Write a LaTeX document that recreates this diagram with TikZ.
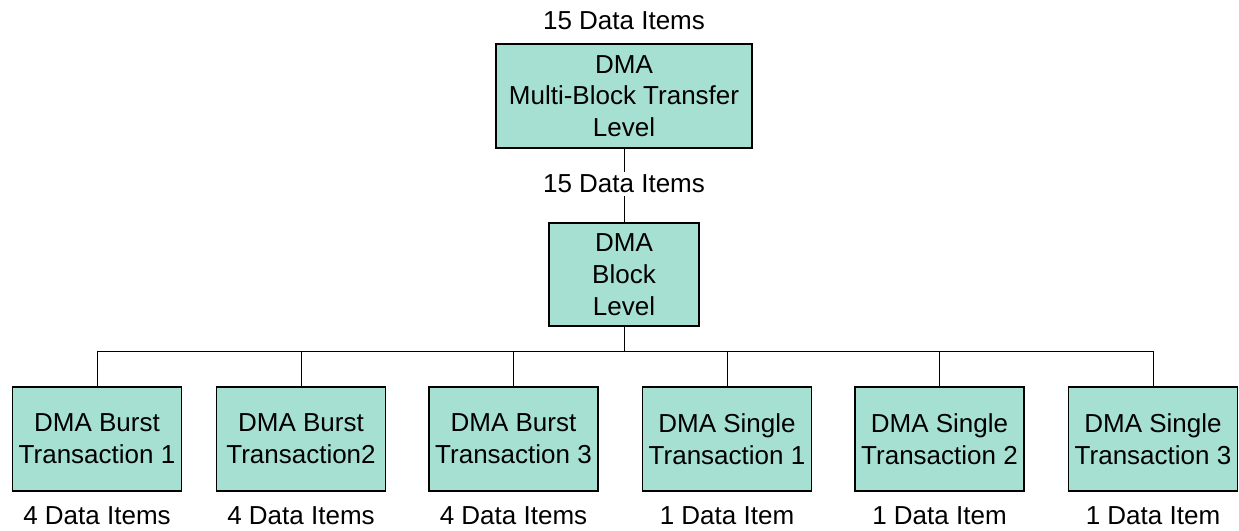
\documentclass[tikz,border=0pt]{standalone}
\usepackage{fontspec}
\setmainfont{Liberation Sans}
\definecolor{boxfill}{RGB}{166,224,211}
\begin{document}
\begin{tikzpicture}[x=0.75pt,y=-0.75pt,
  every node/.style={font=\fontsize{19.5pt}{23.8pt}\selectfont},
  dmabox/.style={draw=black,line width=0.9pt,fill=boxfill,align=center,inner sep=0pt},
  lbl/.style={inner sep=1pt},
  conn/.style={line width=0.75pt}]
\useasboundingbox (0,0) rectangle (1239,531);
\node[dmabox,minimum width=256*0.75pt,minimum height=104*0.75pt] (top) at (624,96) {DMA\\Multi-Block Transfer\\Level};
\node[lbl] (ltop) at (624,21) {15 Data Items};
\node[dmabox,minimum width=150*0.75pt,minimum height=103*0.75pt] (mid) at (624,274.5) {DMA\\Block\\Level};
\draw[conn] (top.south) -- (mid.north);
\node[lbl,fill=white,inner ysep=2pt] (lmid) at (624,184) {15 Data Items};
\coordinate (bus) at (624,351);
\foreach \i/\x/\t/\l in {1/97/{DMA Burst\\Transaction 1}/{4 Data Items},
                         2/301/{DMA Burst\\Transaction2}/{4 Data Items},
                         3/513.5/{DMA Burst\\Transaction 3}/{4 Data Items},
                         4/727/{DMA Single\\Transaction 1}/{1 Data Item},
                         5/939.5/{DMA Single\\Transaction 2}/{1 Data Item},
                         6/1153/{DMA Single\\Transaction 3}/{1 Data Item}}{
  \node[dmabox,minimum width=169*0.75pt,minimum height=104*0.75pt] (b\i) at (\x,439) {\t};
  \node[lbl] (l\i) at (\x,516) {\l};
}
\draw[conn] (mid.south) -- (bus);
\draw[conn] (b1.north |- bus) -- (b6.north |- bus);
\foreach \i in {1,...,6}{
  \draw[conn] (b\i.north |- bus) -- (b\i.north);
}
\end{tikzpicture}
\end{document}
